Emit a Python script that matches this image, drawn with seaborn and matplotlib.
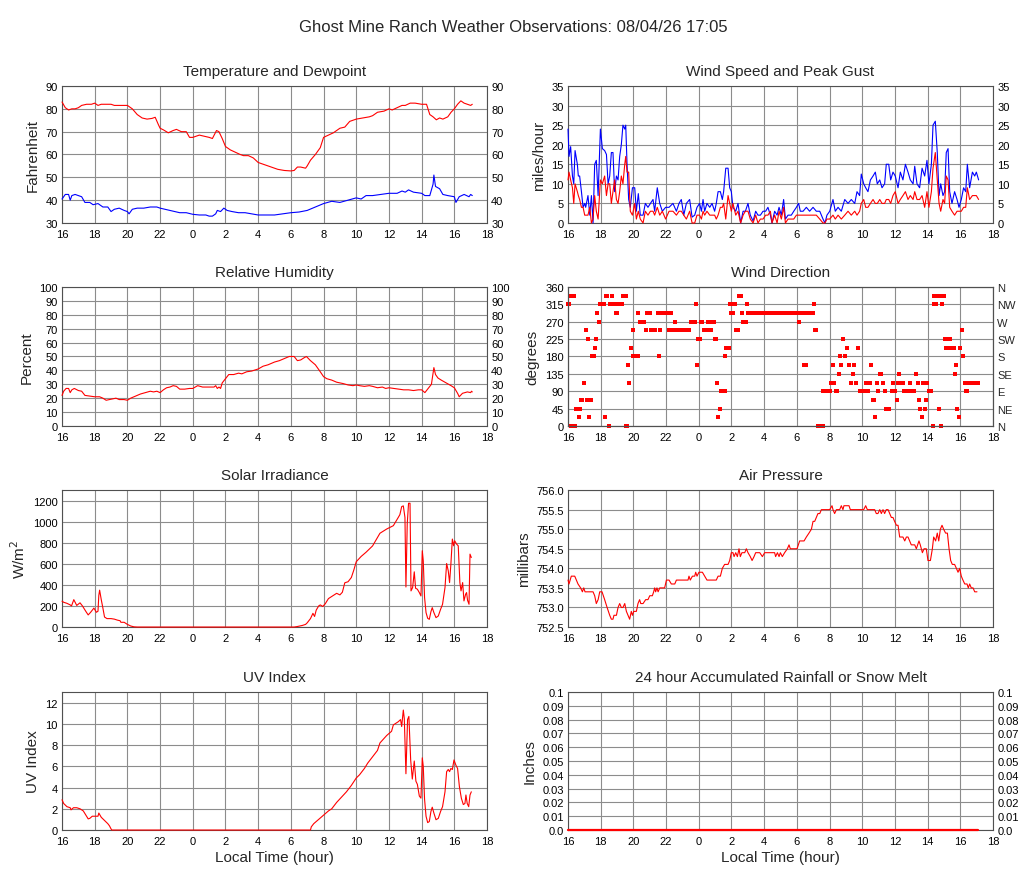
import matplotlib
matplotlib.use("Agg")
import matplotlib.pyplot as plt
import seaborn as sns

# hours since 16:00 of day 1 expressed as 16..42
X_TICKS = list(range(16, 43, 2))
X_LABELS = [str(h % 24) for h in X_TICKS]

TEMP_T = [16.0, 16.2, 16.4, 16.6, 16.8, 17.0, 17.2, 17.5, 17.8, 18.0, 18.2, 18.4, 18.6, 18.8,
          19.0, 19.2, 19.4, 19.6, 19.8, 20.0, 20.3, 20.6, 20.9, 21.2, 21.5, 21.7, 21.9, 22.0,
          22.2, 22.5, 22.8, 23.0, 23.3, 23.6, 23.8, 24.0, 24.4, 24.7, 25.0, 25.2, 25.45, 25.6,
          25.8, 26.0, 26.3, 26.6, 26.9, 27.1, 27.4, 27.7, 28.0, 28.4, 28.8, 29.2, 29.6, 30.0,
          30.2, 30.4, 30.6, 30.9, 31.0, 31.2, 31.5, 31.8, 32.0, 32.3, 32.6, 33.0, 33.3, 33.6,
          34.0, 34.4, 34.8, 35.0, 35.3, 35.7, 36.0, 36.2, 36.5, 36.8, 37.0, 37.3, 37.6, 38.0,
          38.3, 38.5, 38.7, 38.9, 39.1, 39.3, 39.6, 39.8, 40.0, 40.2, 40.4, 40.6, 40.8, 41.0, 41.1]
TEMP_F = [83, 80.5, 79.5, 80, 80, 80.5, 81.5, 82, 82, 82.5, 81.5, 82, 82, 82,
          82, 81.5, 81.5, 81.5, 81.5, 81.5, 80, 77.5, 76, 75.5, 75.8, 76.3, 73, 71.5,
          70.8, 69.5, 70.5, 71, 70, 70, 67.5, 67.5, 68.5, 68, 67.5, 67, 70.5, 70,
          67, 63.5, 62, 61, 60, 59.5, 59.5, 58.5, 56.5, 55.5, 54.5, 53.5, 53, 52.8,
          53, 54.5, 54.5, 54, 55, 57.5, 60, 63, 67.5, 68.5, 69.5, 71.5, 72, 74.5,
          75.5, 76, 76.5, 77, 78.5, 79, 80, 79.5, 80.5, 81.5, 81.5, 82.5, 82.5, 82,
          82, 77.5, 76.5, 75.2, 76, 75.5, 76.5, 78.5, 80, 82, 83.5, 82.5, 82, 81.5, 82]

DEW_T = [16.0, 16.2, 16.4, 16.5, 16.6, 16.8, 17.0, 17.2, 17.4, 17.7, 17.9, 18.2, 18.5, 18.8,
         19.0, 19.2, 19.5, 19.8, 20.0, 20.1, 20.3, 20.6, 21.0, 21.4, 21.8, 22.0, 22.3, 22.6,
         22.9, 23.2, 23.6, 24.0, 24.4, 24.8, 25.0, 25.2, 25.4, 25.5, 25.7, 25.9, 26.1, 26.4,
         26.8, 27.2, 27.6, 28.0, 28.5, 29.0, 29.5, 30.0, 30.5, 31.0, 31.5, 32.0, 32.5, 33.0,
         33.5, 34.0, 34.3, 34.6, 35.0, 35.5, 36.0, 36.5, 36.8, 37.0, 37.2, 37.5, 38.0, 38.2,
         38.5, 38.7, 38.75, 38.85, 39.1, 39.3, 39.6, 40.0, 40.1, 40.3, 40.6, 40.9, 41.0, 41.1]
DEW_F = [40.5, 42.5, 42.5, 40, 42, 42.5, 42, 41.5, 39, 39, 38, 38.5, 37, 37,
         35, 36, 36.5, 35.5, 35, 34, 36, 36.5, 36.5, 37, 37, 36.5, 36, 35.5,
         35, 34.5, 34.5, 33.8, 33.5, 33.5, 33, 33, 34, 35.5, 35, 36.5, 35.5, 35,
         34.5, 34.5, 34, 33.5, 33.5, 33.5, 34, 34.5, 34.8, 35.5, 37, 38.5, 39.5, 39,
         40, 41, 40.5, 42, 42, 42.5, 43, 43, 44, 43.5, 44.5, 43.5, 43, 42,
         42, 47, 51, 46, 45, 42.5, 42, 41.5, 39, 41.5, 42.5, 41.5, 42.5, 42]

WIND_T = [16.0, 16.06, 16.16, 16.27, 16.35, 16.43, 16.57, 16.63, 16.71, 16.82, 16.92, 17.02,
          17.08, 17.22, 17.33, 17.43, 17.53, 17.63, 17.73, 17.84, 17.98, 18.1, 18.24, 18.35,
          18.45, 18.55, 18.65, 18.75, 18.85, 18.96, 19.06, 19.16, 19.26, 19.36, 19.47, 19.53,
          19.61, 19.71, 19.81, 19.94, 20.08, 20.18, 20.3, 20.42, 20.59, 20.73, 20.89, 21.04,
          21.2, 21.3, 21.46, 21.61, 21.77, 21.97, 22.18, 22.42, 22.63, 22.79, 22.93, 23.08,
          23.24, 23.44, 23.59, 23.75, 23.89, 24.05, 24.16, 24.26, 24.36, 24.5, 24.67, 24.81,
          24.97, 25.07, 25.18, 25.32, 25.44, 25.52, 25.65, 25.79, 25.89, 25.99, 26.09, 26.26,
          26.4, 26.56, 26.71, 26.85, 27.01, 27.15, 27.32, 27.48, 27.62, 27.77, 27.93, 28.09,
          28.23, 28.38, 28.48, 28.64, 28.79, 28.91, 29.05, 29.19, 29.3, 29.46, 29.66, 29.81,
          29.97, 30.11, 30.21, 30.38, 30.58, 30.78, 30.99, 31.19, 31.4, 31.6, 31.72, 31.84,
          32.01, 32.21, 32.35, 32.52, 32.72, 32.93, 33.13, 33.33, 33.54, 33.68, 33.84, 33.94,
          34.09, 34.21, 34.35, 34.5, 34.66, 34.8, 34.92, 35.07, 35.21, 35.37, 35.47, 35.62,
          35.74, 35.88, 36.02, 36.19, 36.33, 36.49, 36.64, 36.8, 36.94, 37.11, 37.21, 37.35,
          37.51, 37.66, 37.82, 37.96, 38.08, 38.23, 38.33, 38.47, 38.59, 38.7, 38.8, 38.94,
          39.04, 39.14, 39.25, 39.35, 39.49, 39.65, 39.8, 39.92, 40.06, 40.2, 40.33, 40.43,
          40.57, 40.74, 40.88, 40.98, 41.12]
GUST_MPH = [24, 17, 19.5, 12, 10, 18.5, 15, 12, 12, 8, 4, 5,
            4, 7, 2, 7, 0, 15, 16, 7, 24, 19, 18.5, 17.5,
            10, 12, 18, 18, 8, 12, 11, 17, 20, 25, 24, 25,
            15, 6, 4, 9, 9, 3, 7.5, 2, 2, 5, 4, 5,
            6, 3, 9, 5, 3, 4, 4, 5, 3, 5, 6, 2,
            5, 6, 1.5, 2, 4, 5, 3, 6, 3, 5, 4, 5,
            3, 5, 8, 8, 6, 8, 14, 14, 9, 8, 4, 3,
            5, 0, 3, 3, 5, 2, 0.5, 3, 2, 2, 3, 3,
            4, 2, 0, 3, 2, 4, 2, 6, 1, 2, 2, 3,
            4, 5, 3, 3, 4, 3, 4, 3, 3, 1, 0, 2,
            3, 6, 3, 4, 3, 6, 5, 6, 5, 8, 7, 12.5,
            10, 9, 8, 11, 12, 13, 10, 11, 9, 10, 15, 15,
            11, 13, 12, 9, 13, 11, 15, 13, 11, 10, 14.5, 10,
            9, 14, 12, 16, 10, 15, 25, 26, 18, 7, 10, 7,
            8, 18, 19, 8, 5, 8, 6, 4, 6, 9, 8, 15,
            9, 13, 12, 13, 11]
SPEED_MPH = [11, 13, 11, 9, 5, 10, 8, 7, 6, 4, 4, 2,
             2, 2, 4, 0, 1, 7, 3, 1, 11, 10, 12, 7,
             10, 10, 5, 8, 11, 6, 5, 8, 12, 10, 15, 17,
             13, 13, 3, 2, 5, 1, 3, 1, 0, 3, 2, 3,
             3, 2, 4, 2, 3, 1, 3, 3, 2, 3, 3, 2,
             1, 3, 0, 0, 2, 2, 1, 3, 2, 3, 2, 2,
             2, 1, 2, 4, 4, 5, 1, 7, 5, 3, 5, 2,
             3, 0, 2, 3, 3, 1, 0, 2, 0, 1, 1, 2,
             2, 3, 0, 2, 0, 3, 1, 4, 0, 1, 1, 1,
             2, 2, 2, 2, 2, 2, 2, 2, 1, 0, 0, 1,
             1, 2, 1, 2, 1, 2, 3, 2, 3, 2, 3, 5,
             6, 4, 4, 5, 6, 5, 5, 6, 5, 5, 6, 6,
             5, 7, 8, 5, 6, 7, 8, 6, 7, 6, 8, 6,
             6, 7, 4, 8, 4, 8, 14, 18, 11, 5, 3, 6,
             5, 12, 11, 4, 3, 2, 3, 3, 3, 4, 4, 9,
             6, 7, 7, 7, 6]

DIR_T = [16.0, 16.06, 16.12, 16.18, 16.24, 16.3, 16.36, 16.42, 16.48, 16.55, 16.62, 16.68,
         16.74, 16.8, 16.88, 16.96, 17.08, 17.18, 17.22, 17.29, 17.41, 17.47, 17.55, 17.6,
         17.66, 17.74, 17.8, 17.9, 17.98, 18.06, 18.14, 18.22, 18.28, 18.35, 18.4, 18.51,
         18.55, 18.62, 18.71, 18.78, 18.86, 18.92, 18.98, 19.04, 19.12, 19.2, 19.28, 19.36,
         19.44, 19.52, 19.55, 19.6, 19.67, 19.75, 19.86, 19.97, 20.0, 20.1, 20.18, 20.26,
         20.31, 20.38, 20.46, 20.55, 20.64, 20.79, 20.85, 20.92, 20.99, 21.06, 21.15, 21.25,
         21.35, 21.5, 21.56, 21.64, 21.72, 21.82, 21.92, 22.02, 22.12, 22.18, 22.33, 22.43,
         22.57, 22.63, 22.73, 22.83, 22.93, 23.03, 23.13, 23.23, 23.33, 23.43, 23.5, 23.58,
         23.66, 23.74, 23.81, 23.89, 23.95, 24.05, 24.15, 24.22, 24.3, 24.4, 24.5, 24.58,
         24.66, 24.72, 24.78, 24.86, 24.93, 24.98, 25.08, 25.14, 25.2, 25.28, 25.34, 25.42,
         25.5, 25.58, 25.6, 25.68, 25.76, 25.83, 25.89, 25.99, 26.07, 26.1, 26.18, 26.24,
         26.3, 26.38, 26.44, 26.52, 26.6, 26.65, 26.72, 26.8, 26.86, 26.92, 26.98, 27.15,
         27.32, 27.48, 27.65, 27.82, 27.98, 28.15, 28.32, 28.48, 28.65, 28.82, 28.98, 29.15,
         29.32, 29.48, 29.65, 29.82, 29.98, 30.14, 30.22, 30.3, 30.38, 30.46, 30.54, 30.62,
         30.72, 30.82, 30.92, 31.0, 31.06, 31.12, 31.2, 31.28, 31.36, 31.44, 31.52, 31.6,
         31.62, 31.7, 31.78, 31.86, 31.94, 32.02, 32.11, 32.2, 32.3, 32.4, 32.48, 32.58,
         32.64, 32.72, 32.82, 32.93, 33.07, 33.19, 33.33, 33.44, 33.5, 33.64, 33.74, 33.84,
         33.92, 34.0, 34.08, 34.16, 34.25, 34.34, 34.45, 34.55, 34.66, 34.72, 34.8, 34.9,
         34.96, 35.11, 35.16, 35.27, 35.38, 35.43, 35.5, 35.57, 35.65, 35.79, 35.89, 36.03,
         36.13, 36.19, 36.25, 36.33, 36.41, 36.49, 36.55, 36.63, 36.71, 36.79, 36.9, 37.0,
         37.1, 37.16, 37.31, 37.41, 37.47, 37.55, 37.65, 37.72, 37.82, 37.88, 37.96, 38.08,
         38.16, 38.22, 38.33, 38.37, 38.41, 38.45, 38.49, 38.53, 38.57, 38.67, 38.73, 38.84,
         38.9, 38.98, 39.04, 39.14, 39.2, 39.3, 39.35, 39.45, 39.59, 39.67, 39.76, 39.82,
         39.92, 40.0, 40.08, 40.16, 40.27, 40.37, 40.43, 40.47, 40.57, 40.67, 40.77, 40.87,
         40.97, 41.07]
DIR_DEG = [315, 315, 337.5, 0, 337.5, 0, 337.5, 0, 45, 45, 45, 22.5,
           45, 67.5, 67.5, 112.5, 247.5, 67.5, 225, 22.5, 67.5, 180, 180, 180,
           202.5, 225, 292.5, 270, 315, 315, 315, 315, 22.5, 337.5, 337.5, 0,
           315, 315, 337.5, 315, 315, 292.5, 292.5, 315, 315, 315, 315, 337.5,
           337.5, 337.5, 0, 0, 157.5, 112.5, 202.5, 247.5, 180, 180, 180, 180,
           292.5, 270, 270, 270, 270, 247.5, 292.5, 292.5, 292.5, 247.5, 247.5, 247.5,
           247.5, 292.5, 180, 247.5, 292.5, 292.5, 292.5, 292.5, 292.5, 247.5, 292.5, 247.5,
           270, 247.5, 247.5, 247.5, 247.5, 247.5, 247.5, 247.5, 247.5, 247.5, 270, 270,
           270, 270, 315, 157.5, 225, 225, 270, 270, 247.5, 247.5, 247.5, 270,
           270, 247.5, 270, 270, 270, 225, 225, 112.5, 22.5, 45, 90, 90,
           90, 90, 180, 202.5, 202.5, 202.5, 315, 292.5, 292.5, 315, 315, 315,
           247.5, 247.5, 337.5, 337.5, 337.5, 292.5, 270, 270, 270, 315, 292.5, 292.5,
           292.5, 292.5, 292.5, 292.5, 292.5, 292.5, 292.5, 292.5, 292.5, 292.5, 292.5, 292.5,
           292.5, 292.5, 292.5, 292.5, 292.5, 270, 292.5, 292.5, 292.5, 157.5, 157.5, 292.5,
           292.5, 292.5, 292.5, 292.5, 315, 247.5, 247.5, 0, 0, 0, 0, 0,
           90, 90, 90, 90, 90, 90, 112.5, 157.5, 112.5, 90, 90, 135,
           180, 157.5, 225, 180, 202.5, 157.5, 112.5, 135, 157.5, 112.5, 202.5, 90,
           90, 90, 90, 90, 112.5, 90, 112.5, 157.5, 67.5, 67.5, 22.5, 112.5,
           90, 135, 135, 112.5, 90, 45, 45, 45, 45, 90, 112.5, 90,
           67.5, 112.5, 135, 112.5, 112.5, 112.5, 90, 90, 90, 90, 112.5, 90,
           90, 90, 135, 112.5, 67.5, 45, 22.5, 112.5, 45, 67.5, 112.5, 90,
           90, 90, 0, 315, 337.5, 315, 337.5, 315, 337.5, 45, 337.5, 0,
           315, 337.5, 225, 202.5, 202.5, 225, 225, 202.5, 202.5, 135, 157.5, 45,
           22.5, 202.5, 247.5, 180, 112.5, 90, 90, 112.5, 112.5, 112.5, 112.5, 112.5,
           112.5, 112.5]
DIR_TICKS = [0, 45, 90, 135, 180, 225, 270, 315, 360]
COMPASS = ["N", "NE", "E", "SE", "S", "SW", "W", "NW", "N"]

RH_T = [16.0, 16.1, 16.25, 16.4, 16.5, 16.6, 16.75, 17.0, 17.2, 17.4, 17.7, 18.0, 18.3, 18.5,
        18.7, 18.9, 19.1, 19.3, 19.5, 19.8, 20.0, 20.2, 20.5, 20.8, 21.1, 21.4, 21.6, 21.8,
        22.0, 22.2, 22.4, 22.6, 22.8, 23.0, 23.2, 23.5, 23.8, 24.0, 24.3, 24.6, 25.0, 25.3,
        25.4, 25.5, 25.6, 25.7, 25.8, 26.0, 26.1, 26.2, 26.5, 26.8, 27.0, 27.3, 27.6, 28.0,
        28.3, 28.6, 29.0, 29.3, 29.6, 29.9, 30.2, 30.4, 30.6, 30.8, 30.95, 31.2, 31.5, 31.8,
        32.0, 32.2, 32.5, 32.8, 33.0, 33.2, 33.5, 33.8, 34.0, 34.2, 34.5, 34.8, 35.0, 35.3,
        35.6, 35.8, 36.0, 36.3, 36.6, 36.9, 37.2, 37.5, 37.8, 38.0, 38.2, 38.4, 38.6, 38.75,
        38.85, 39.0, 39.2, 39.5, 39.8, 40.0, 40.2, 40.3, 40.5, 40.8, 41.0, 41.05, 41.1]
RH_PCT = [22, 25, 27, 27, 24, 26, 27, 25.5, 25, 22, 21.5, 21, 21, 20,
          18.5, 19, 19.5, 20, 19, 19, 18.5, 20, 21.5, 23, 24, 25, 24.5, 25,
          24, 26, 27.5, 28, 29, 28.5, 26.5, 26.5, 27, 27, 29, 28, 28, 28,
          29, 27, 28, 27, 31, 34, 35.5, 37, 37, 38, 37.5, 39, 39.5, 41,
          43, 44, 46, 47, 48.5, 50, 50, 47, 47.5, 49, 50, 47, 44, 39,
          35.5, 34, 33, 31.5, 31, 30.5, 29.5, 29, 29.5, 29, 28.5, 29, 28.5, 27.5,
          28, 27, 27.5, 27, 26.5, 26, 26, 25.5, 26, 26, 24, 27, 30, 42,
          37, 34.5, 33, 31, 29, 27.5, 23.5, 21, 23.5, 24.5, 24, 25, 24.5]

SOLAR_T = [16.0, 16.1, 16.3, 16.5, 16.58, 16.72, 16.9, 17.1, 17.25, 17.45, 17.6, 17.75,
           17.95, 18.1, 18.2, 18.25, 18.3, 18.4, 18.5, 18.6, 18.75, 19.0, 19.2, 19.4,
           19.55, 19.6, 19.8, 20.0, 20.2, 20.4, 20.6, 30.2, 30.4, 30.7, 30.9, 31.0,
           31.2, 31.35, 31.45, 31.55, 31.7, 31.8, 31.95, 32.1, 32.3, 32.5, 32.8, 33.0,
           33.15, 33.3, 33.5, 33.7, 33.85, 34.0, 34.3, 34.6, 35.0, 35.45, 35.86, 36.27,
           36.57, 36.67, 36.78, 36.88, 36.98, 37.04, 37.12, 37.2, 37.29, 37.35, 37.45, 37.55,
           37.63, 37.74, 37.86, 37.96, 38.04, 38.1, 38.18, 38.27, 38.37, 38.47, 38.57, 38.65,
           38.75, 38.88, 39.02, 39.16, 39.28, 39.43, 39.53, 39.63, 39.71, 39.79, 39.88, 39.96,
           40.02, 40.14, 40.24, 40.34, 40.41, 40.51, 40.59, 40.69, 40.75, 40.81, 40.9, 40.96,
           41.04]
SOLAR_WM2 = [245, 235, 225, 210, 200, 260, 205, 230, 200, 150, 115, 140,
             180, 140, 150, 300, 350, 260, 180, 95, 80, 80, 75, 65,
             60, 45, 45, 25, 10, 2, 0, 0, 5, 15, 25, 40,
             80, 130, 100, 160, 200, 210, 195, 220, 270, 290, 320, 305,
             330, 420, 430, 470, 540, 620, 670, 710, 770, 890, 930, 962,
             1040, 1067, 1143, 1150, 1040, 380, 980, 1175, 1175, 343, 375, 524,
             368, 359, 327, 295, 724, 629, 280, 137, 83, 73, 146, 184,
             137, 89, 105, 168, 216, 375, 603, 533, 422, 597, 835, 771,
             819, 787, 771, 422, 343, 422, 248, 311, 327, 254, 216, 692,
             660]

PRES_T = [16.0, 16.06, 16.2, 16.41, 16.61, 16.77, 16.88, 16.96, 17.04, 17.53, 17.63, 17.73,
          17.84, 17.94, 18.08, 18.24, 18.39, 18.55, 18.65, 18.75, 18.81, 18.96, 19.06, 19.16,
          19.26, 19.36, 19.47, 19.57, 19.67, 19.77, 19.87, 19.94, 20.02, 20.18, 20.28, 20.38,
          20.45, 20.59, 20.75, 20.89, 21.0, 21.16, 21.24, 21.3, 21.36, 21.44, 21.51, 21.61,
          21.91, 22.02, 22.18, 22.32, 22.53, 22.63, 23.34, 23.4, 23.48, 23.61, 23.75, 23.81,
          23.89, 24.01, 24.22, 24.36, 24.5, 25.07, 25.18, 25.32, 25.44, 25.58, 25.79, 25.89,
          25.99, 26.09, 26.16, 26.26, 26.36, 26.46, 26.54, 26.64, 26.81, 26.91, 27.01, 27.15,
          27.26, 27.38, 27.48, 27.73, 27.89, 28.03, 28.64, 28.7, 28.81, 28.91, 28.99, 29.11,
          29.25, 29.42, 29.52, 29.6, 30.01, 30.17, 30.44, 30.58, 30.74, 30.89, 30.99, 31.09,
          31.19, 31.29, 31.4, 31.5, 32.01, 32.15, 32.21, 32.31, 32.42, 32.62, 32.72, 32.82,
          32.88, 33.19, 33.27, 34.09, 34.21, 34.31, 34.76, 34.86, 34.96, 35.07, 35.17, 35.27,
          35.37, 35.47, 35.58, 35.68, 35.78, 35.88, 35.98, 36.09, 36.19, 36.29, 36.49, 36.6,
          36.7, 36.8, 36.9, 37.0, 37.21, 37.31, 37.47, 37.55, 37.68, 37.78, 37.92, 38.02,
          38.17, 38.29, 38.37, 38.49, 38.59, 38.68, 38.78, 38.88, 38.98, 39.1, 39.21, 39.31,
          39.41, 39.51, 39.65, 39.76, 39.86, 39.96, 40.06, 40.16, 40.27, 40.41, 40.49, 40.57,
          40.67, 40.78, 40.88, 41.02]
PRES_MB = [753.7, 753.6, 753.8, 753.8, 753.6, 753.5, 753.4, 753.5, 753.4, 753.4, 753.3, 753.1,
           753.2, 753.4, 753.4, 753.2, 753.0, 752.8, 752.7, 752.7, 752.8, 752.8, 753.0, 753.1,
           753.0, 753.0, 753.1, 752.9, 752.8, 752.7, 752.9, 752.8, 752.9, 752.9, 753.1, 753.2,
           753.1, 753.1, 753.2, 753.2, 753.3, 753.3, 753.4, 753.5, 753.4, 753.5, 753.4, 753.5,
           753.5, 753.7, 753.7, 753.6, 753.6, 753.7, 753.7, 753.8, 753.7, 753.8, 753.8, 753.9,
           753.8, 753.9, 753.9, 753.8, 753.7, 753.7, 753.8, 753.8, 754.0, 754.1, 754.1, 754.2,
           754.4, 754.4, 754.3, 754.4, 754.3, 754.5, 754.3, 754.4, 754.4, 754.5, 754.4, 754.3,
           754.2, 754.3, 754.4, 754.4, 754.3, 754.4, 754.4, 754.3, 754.4, 754.3, 754.4, 754.3,
           754.4, 754.5, 754.6, 754.5, 754.5, 754.7, 754.7, 754.8, 754.9, 755.0, 755.2, 755.2,
           755.3, 755.4, 755.4, 755.5, 755.5, 755.6, 755.5, 755.4, 755.5, 755.5, 755.6, 755.5,
           755.6, 755.6, 755.5, 755.5, 755.6, 755.5, 755.5, 755.4, 755.4, 755.5, 755.4, 755.5,
           755.4, 755.5, 755.5, 755.4, 755.3, 755.3, 755.2, 755.1, 755.1, 754.8, 754.8, 754.7,
           754.8, 754.8, 754.7, 754.6, 754.6, 754.5, 754.7, 754.6, 754.4, 754.5, 754.5, 754.2,
           754.2, 754.5, 754.8, 754.7, 754.9, 754.7, 755.0, 755.1, 755.0, 754.9, 754.9, 754.5,
           754.2, 754.1, 754.1, 754.0, 753.9, 754.0, 753.8, 753.7, 753.6, 753.6, 753.5, 753.6,
           753.5, 753.5, 753.4, 753.4]

UV_T = [16.0, 16.1, 16.3, 16.5, 16.55, 16.7, 16.9, 17.1, 17.3, 17.5, 17.6, 17.7, 17.85,
        18.0, 18.2, 18.25, 18.4, 18.6, 18.8, 18.9, 19.0, 19.05, 31.2, 31.25, 31.4, 31.7,
        32.0, 32.3, 32.5, 32.8, 33.1, 33.4, 33.7, 34.0, 34.2, 34.5, 34.7, 35.0, 35.3,
        35.45, 35.86, 36.16, 36.27, 36.57, 36.71, 36.78, 36.88, 36.94, 37.04, 37.14, 37.22,
        37.33, 37.43, 37.55, 37.65, 37.74, 37.86, 37.96, 38.04, 38.1, 38.18, 38.27, 38.37,
        38.47, 38.57, 38.65, 38.75, 38.88, 39.02, 39.16, 39.28, 39.43, 39.53, 39.63, 39.71,
        39.79, 39.88, 39.98, 40.1, 40.2, 40.31, 40.43, 40.55, 40.65, 40.71, 40.79, 40.88,
        40.96, 41.04]
UV_IDX = [2.85, 2.5, 2.2, 2.1, 1.9, 2.1, 2.1, 2.0, 1.8, 1.3, 1.05, 1.1, 1.3,
          1.3, 1.3, 1.6, 1.2, 0.9, 0.6, 0.4, 0.1, 0, 0, 0.3, 0.6, 1.0,
          1.4, 1.8, 2.0, 2.6, 3.1, 3.6, 4.2, 4.9, 5.2, 5.8, 6.3, 6.9, 7.5,
          8.2, 8.9, 9.3, 9.9, 10.2, 10.4, 9.75, 11.3, 10.5, 5.3, 10.4, 10.7,
          6.6, 4.8, 6.5, 4.6, 4.3, 3.2, 3.0, 6.8, 6.0, 2.9, 1.3, 0.7,
          0.8, 1.75, 2.15, 1.6, 0.97, 1.1, 1.75, 2.2, 3.6, 5.5, 5.7, 5.5,
          5.8, 5.7, 6.6, 6.1, 5.8, 4.1, 3.0, 2.4, 2.5, 3.3, 2.5, 2.2,
          3.3, 3.6]

RAIN_T = [16.0, 20.0, 24.0, 28.0, 32.0, 36.0, 40.0, 41.1]
RAIN_IN = [0, 0, 0, 0, 0, 0, 0, 0]

RED = "#ff0000"
BLUE = "#0000ff"
GRID = "#8c8c8c"
SPINE = "#505050"

sns.set_theme(style="white")
plt.rcParams["font.family"] = ["Liberation Sans", "DejaVu Sans"]
plt.rcParams["xtick.labelsize"] = 8
plt.rcParams["ytick.labelsize"] = 8

fig = plt.figure(figsize=(10.27, 8.78), dpi=100)
fig.suptitle("Ghost Mine Ranch Weather Observations: 08/04/26 17:05", y=0.977, fontsize=12)

left_x, right_x, width = 0.0604, 0.5531, 0.4138
rows = [(0.7449, 0.1560), (0.5137, 0.1583), (0.2847, 0.1560), (0.0535, 0.1572)]


def make_axes(col_x, row):
    y0, h = rows[row]
    ax = fig.add_axes([col_x, y0, width, h])
    ax.set_xlim(16, 42)
    ax.set_xticks(X_TICKS)
    ax.set_xticklabels(X_LABELS)
    ax.grid(True, color=GRID, linewidth=0.8)
    ax.set_axisbelow(True)
    for sp in ax.spines.values():
        sp.set_color(SPINE)
        sp.set_linewidth(0.8)
    ax.tick_params(length=0, pad=4, colors="black")
    ax.tick_params(axis="y", pad=3)
    return ax


def finish(ax, title, ylabel, right_labels=False, xlabel=None):
    ax.set_title(title, fontsize=11, pad=8)
    ax.set_ylabel(ylabel, fontsize=11, labelpad=4)
    if xlabel:
        ax.set_xlabel(xlabel, fontsize=11, labelpad=3)
    else:
        ax.set_xlabel("")
    if right_labels:
        ax.tick_params(labelright=True)


# lines sit above the spines so the zero stretches stay visible
line_kw = dict(linewidth=0.8, estimator=None, sort=False, legend=False, zorder=3, clip_on=False)

# Temperature and dewpoint
ax = make_axes(left_x, 0)
sns.lineplot(x=TEMP_T, y=TEMP_F, color=RED, ax=ax, **line_kw)
sns.lineplot(x=DEW_T, y=DEW_F, color=BLUE, ax=ax, **line_kw)
ax.set_ylim(30, 90)
ax.set_yticks(range(30, 91, 10))
finish(ax, "Temperature and Dewpoint", "Fahrenheit", right_labels=True)

# Wind speed and gust
ax = make_axes(right_x, 0)
sns.lineplot(x=WIND_T, y=GUST_MPH, color=BLUE, ax=ax, **line_kw)
sns.lineplot(x=WIND_T, y=SPEED_MPH, color=RED, ax=ax, **line_kw)
ax.set_ylim(0, 35)
ax.set_yticks(range(0, 36, 5))
finish(ax, "Wind Speed and Peak Gust", "miles/hour", right_labels=True)

# Relative humidity
ax = make_axes(left_x, 1)
sns.lineplot(x=RH_T, y=RH_PCT, color=RED, ax=ax, **line_kw)
ax.set_ylim(0, 100)
ax.set_yticks(range(0, 101, 10))
finish(ax, "Relative Humidity", "Percent", right_labels=True)

# Wind direction
ax = make_axes(right_x, 1)
sns.scatterplot(x=DIR_T, y=DIR_DEG, color=RED, marker="s", s=7, linewidth=0,
                ax=ax, legend=False, clip_on=False, zorder=3)
ax.set_ylim(0, 360)
ax.set_yticks(DIR_TICKS)
finish(ax, "Wind Direction", "degrees")
ax2 = ax.twinx()
ax2.set_ylim(0, 360)
ax2.set_yticks(DIR_TICKS)
ax2.set_yticklabels(COMPASS)
ax2.tick_params(length=0, pad=3, labelsize=8)
for sp in ax2.spines.values():
    sp.set_color(SPINE)
    sp.set_linewidth(0.8)

# Solar irradiance
ax = make_axes(left_x, 2)
sns.lineplot(x=SOLAR_T, y=SOLAR_WM2, color=RED, ax=ax, **line_kw)
ax.set_ylim(0, 1300)
ax.set_yticks(range(0, 1201, 200))
finish(ax, "Solar Irradiance", "W/m$^2$")

# Air pressure
ax = make_axes(right_x, 2)
sns.lineplot(x=PRES_T, y=PRES_MB, color=RED, ax=ax, **line_kw)
ax.set_ylim(752.5, 756.0)
ax.set_yticks([752.5 + 0.5 * i for i in range(8)])
ax.set_yticklabels([f"{752.5 + 0.5 * i:.1f}" for i in range(8)])
finish(ax, "Air Pressure", "millibars")

# UV index
ax = make_axes(left_x, 3)
sns.lineplot(x=UV_T, y=UV_IDX, color=RED, ax=ax, **line_kw)
ax.set_ylim(0, 13)
ax.set_yticks(range(0, 13, 2))
finish(ax, "UV Index", "UV Index", xlabel="Local Time (hour)")

# Rainfall
ax = make_axes(right_x, 3)
sns.lineplot(x=RAIN_T, y=RAIN_IN, color=RED, ax=ax, linewidth=1.6, estimator=None,
             legend=False, clip_on=False, zorder=5)
ax.set_ylim(0, 0.1)
rain_ticks = [i / 100 for i in range(11)]
ax.set_yticks(rain_ticks)
ax.set_yticklabels(["0.0"] + [f"{v:.2f}" for v in rain_ticks[1:10]] + ["0.1"])
finish(ax, "24 hour Accumulated Rainfall or Snow Melt", "Inches", right_labels=True,
       xlabel="Local Time (hour)")

fig.savefig("out.png", dpi=100)
